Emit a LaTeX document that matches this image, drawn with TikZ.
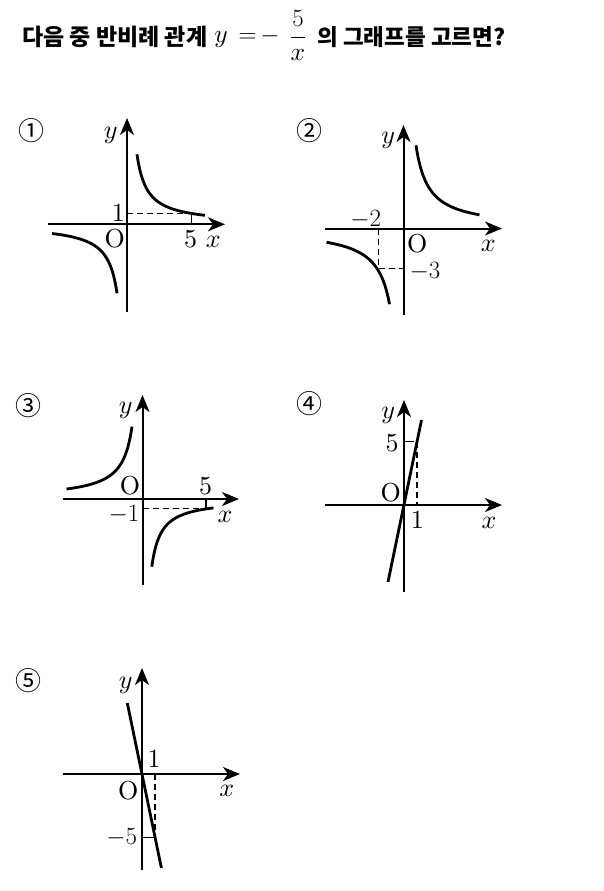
\documentclass[tikz,border=0pt]{standalone}
\usepackage{fontspec}
\setmainfont{lmroman10-regular.otf}[ItalicFont=lmroman10-italic.otf,BoldFont=lmroman10-bold.otf]
\newfontfamily\kr{Noto Sans CJK KR}
\DeclareFontShape{OML}{cmm}{m}{it}{<->cmmi10}{}
\usetikzlibrary{arrows.meta}
\tikzset{
  axis/.style={line width=2pt,-{Stealth[length=17pt,width=14pt,inset=5pt]}},
  curve/.style={line width=2.8pt},
  guide/.style={line width=1.2pt,dash pattern=on 6pt off 4pt},
  tickmark/.style={line width=1.2pt},
  lbl/.style={font=\fontsize{26}{30}\selectfont,inner sep=0pt,anchor=base},
  num/.style={font=\kr\fontsize{26}{30}\selectfont,inner sep=0pt},
  ttl/.style={font=\kr\bfseries\fontsize{23}{26}\selectfont,inner sep=0pt,anchor=base west},
  tmath/.style={font=\fontsize{25.5}{28}\selectfont,inner sep=0pt,anchor=base}
}
\begin{document}
\begin{tikzpicture}[x=1pt,y=-1pt]
\useasboundingbox[fill=white] (0,0) rectangle (603,891);
% title
\node[ttl] (t1) at (22,46) {다음 중 반비례 관계};
\node[tmath] (ty) at (221,43) {$y$};
\node[tmath] (teq) at (247.5,43) {$=$};
\node[tmath] (tmi) at (270,43) {$-$};
\node[tmath] (tfr) at (298,43) {$\displaystyle\frac{5}{x}$};
\node[ttl,font=\kr\bfseries\fontsize{22.5}{26}\selectfont] (t2) at (317,46) {의 그래프를 고르면?};

% ---------- graph 1 ----------
\node[num] (n1) at (31.7,130.7) {①};
\coordinate (o1) at (127,224.3);
\coordinate (x1a) at (48,224.3); \coordinate (x1b) at (225,224.3);
\coordinate (y1a) at (127,312); \coordinate (y1b) at (127,118);
\draw[axis] (x1a) -- (x1b);
\draw[axis] (y1a) -- (y1b);
\coordinate (g1p) at (191.7,213.3);
\coordinate (g1q) at (191.7,224.3);
\coordinate (g1r) at (127,213.3);
\draw[guide] (g1r) -- (g1p);
\draw[tickmark] (g1p) -- (g1q);
\draw[curve] plot[domain=10:78,samples=80,variable=\t] ({127+\t},{224.3-700/\t});
\draw[curve] plot[domain=-75:-10,samples=80,variable=\t] ({127+\t},{224.3-690/\t});
\node[lbl] (g1y) at (110.7,138.3) {$y$};
\node[lbl] (g1one) at (118.3,221) {1};
\node[lbl] (g1o) at (114.7,247) {O};
\node[lbl] (g1five) at (190.7,247) {5};
\node[lbl] (g1x) at (213.3,247) {$x$};

% ---------- graph 2 ----------
\node[num] (n2) at (309,130.7) {②};
\coordinate (o2) at (403.5,228.5);
\coordinate (x2a) at (325,228.5); \coordinate (x2b) at (502,228.5);
\coordinate (y2a) at (403.5,315); \coordinate (y2b) at (403.5,125);
\draw[axis] (x2a) -- (x2b);
\draw[axis] (y2a) -- (y2b);
\coordinate (g2p) at (378.3,268.3);
\coordinate (g2q) at (378.3,228.5);
\coordinate (g2r) at (403.5,268.3);
\draw[guide] (g2q) -- (g2p) -- (g2r);
\draw[curve] plot[domain=12.5:76,samples=80,variable=\t] ({403.5+\t},{228.5-1040/\t});
\draw[curve] plot[domain=-77:-14,samples=80,variable=\t] ({403.5+\t},{228.5-1060/\t});
\node[lbl] (g2y) at (388.3,143.3) {$y$};
\node[lbl] (g2m2) at (365.7,226) {$-2$};
\node[lbl] (g2o) at (417.3,252.5) {O};
\node[lbl] (g2m3) at (425,278) {$-3$};
\node[lbl] (g2x) at (488.3,251.5) {$x$};

% ---------- graph 3 ----------
\node[num] (n3) at (29,405.7) {③};
\coordinate (o3) at (142.5,499);
\coordinate (x3a) at (63,499); \coordinate (x3b) at (239,499);
\coordinate (y3a) at (142.5,585); \coordinate (y3b) at (142.5,395);
\draw[axis] (x3a) -- (x3b);
\draw[axis] (y3a) -- (y3b);
\coordinate (g3p) at (206,508.3);
\coordinate (g3q) at (206,499);
\coordinate (g3r) at (142.5,508.3);
\draw[guide] (g3r) -- (g3p);
\draw[tickmark] (g3p) -- (g3q);
\draw[curve] plot[domain=-76:-10.5,samples=80,variable=\t] ({142.5+\t},{499+760/\t});
\draw[curve] plot[domain=9.3:71,samples=80,variable=\t] ({142.5+\t},{499+630/\t});
\node[lbl] (g3y) at (125.7,413.3) {$y$};
\node[lbl] (g3o) at (130,494) {O};
\node[lbl] (g3five) at (205.7,494) {5};
\node[lbl] (g3m1) at (124,521.5) {$-1$};
\node[lbl] (g3x) at (225,522) {$x$};

% ---------- graph 4 ----------
\node[num] (n4) at (309,404) {④};
\coordinate (o4) at (404,505);
\coordinate (x4a) at (325,505); \coordinate (x4b) at (502,505);
\coordinate (y4a) at (404,592); \coordinate (y4b) at (404,400);
\draw[axis] (x4a) -- (x4b);
\draw[axis] (y4a) -- (y4b);
\coordinate (g4p) at (417,441.7);
\coordinate (g4q) at (417,505);
\coordinate (g4r) at (404,441.7);
\coordinate (g4s) at (413.5,441.7);
\draw[guide] (g4p) -- (g4q);
\draw[tickmark] (g4r) -- (g4s);
\coordinate (g4a) at (388,582);
\coordinate (g4b) at (421.5,420);
\draw[curve] (g4a) -- (g4b);
\node[lbl] (g4y) at (388.3,418.3) {$y$};
\node[lbl] (g4five) at (392,451.5) {5};
\node[lbl] (g4o) at (390.7,501.5) {O};
\node[lbl] (g4one) at (417.3,528) {1};
\node[lbl] (g4x) at (489,528) {$x$};

% ---------- graph 5 ----------
\node[num] (n5) at (29,680.7) {⑤};
\coordinate (o5) at (142,774);
\coordinate (x5a) at (63,774); \coordinate (x5b) at (240,774);
\coordinate (y5a) at (142,870); \coordinate (y5b) at (142,668);
\draw[axis] (x5a) -- (x5b);
\draw[axis] (y5a) -- (y5b);
\coordinate (g5p) at (155,837.3);
\coordinate (g5q) at (155,774);
\coordinate (g5r) at (142,837.3);
\draw[guide] (g5q) -- (g5p);
\draw[tickmark] (g5r) -- (g5p);
\coordinate (g5a) at (127.3,703);
\coordinate (g5b) at (161.4,868);
\draw[curve] (g5a) -- (g5b);
\node[lbl] (g5y) at (125.7,688.3) {$y$};
\node[lbl] (g5one) at (154,767) {1};
\node[lbl] (g5o) at (128.3,799) {O};
\node[lbl] (g5x) at (226.7,796.7) {$x$};
\node[lbl] (g5m5) at (121.7,844) {$-5$};
\end{tikzpicture}
\end{document}
